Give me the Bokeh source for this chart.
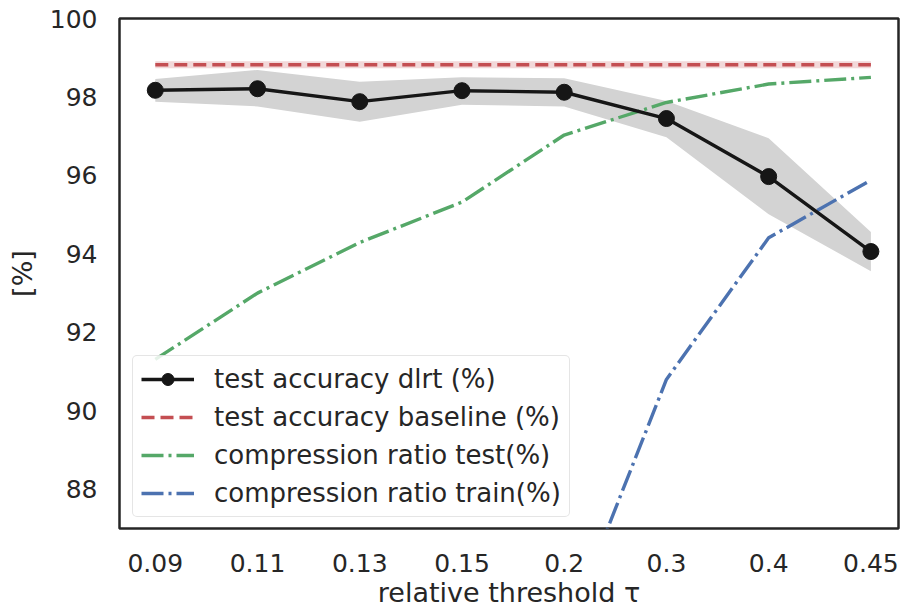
from bokeh.plotting import figure
from bokeh.models import Range1d, FixedTicker, Legend, LegendItem
from bokeh.embed import file_html
from bokeh.resources import INLINE

# relative threshold tau (categorical positions 0..7)
thresholds = ["0.09", "0.11", "0.13", "0.15", "0.2", "0.3", "0.4", "0.45"]

# test accuracy of the dlrt network, mean and spread (%)
acc_dlrt = [98.17, 98.21, 97.88, 98.16, 98.12, 97.45, 95.97, 94.06]
acc_dlrt_upper = [98.46, 98.69, 98.39, 98.50, 98.48, 97.90, 96.95, 94.56]
acc_dlrt_lower = [97.88, 97.76, 97.37, 97.80, 97.76, 96.97, 95.01, 93.56]

# full-rank baseline accuracy (%) and its spread
acc_baseline = [98.82] * 8
acc_baseline_upper = [98.91] * 8
acc_baseline_lower = [98.73] * 8

# compression ratios (%)
comp_test = [91.31, 93.0, 94.29, 95.32, 97.03, 97.86, 98.33, 98.50]
comp_train = [71.5, 75.0, 78.0, 80.5, 84.2, 90.8, 94.41, 95.88]

y_ticks = [88, 90, 92, 94, 96, 98, 100]

xs = list(range(len(thresholds)))

TEXT = "#262626"
BLACK = "#161616"
RED = "#c44e52"
GREEN = "#55a868"
BLUE = "#4c72b0"
FONT = "DejaVu Sans"

p = figure(
    width=901, height=610,
    x_range=Range1d(-0.35, 7.27), y_range=Range1d(87, 100),
    output_backend="svg", toolbar_location=None,
    min_border_left=119, min_border_right=3,
    min_border_top=18, min_border_bottom=82,
)
p.background_fill_color = "white"
p.border_fill_color = "white"
p.grid.visible = False
p.outline_line_color = TEXT
p.outline_line_width = 2.5

# axes
p.xaxis.ticker = FixedTicker(ticks=xs)
p.xaxis.major_label_overrides = {i: t for i, t in enumerate(thresholds)}
p.yaxis.ticker = FixedTicker(ticks=y_ticks)
for ax in (p.xaxis[0], p.yaxis[0]):
    ax.axis_line_color = None
    ax.major_tick_line_color = None
    ax.minor_tick_line_color = None
    ax.major_tick_out = 0
    ax.major_tick_in = 0
    ax.major_label_text_color = TEXT
    ax.major_label_text_font = FONT
    ax.major_label_text_font_size = "25px"
    ax.axis_label_text_color = TEXT
    ax.axis_label_text_font = FONT
    ax.axis_label_text_font_size = "27px"
    ax.axis_label_text_font_style = "normal"

p.yaxis.major_label_standoff = 22
p.yaxis.axis_label = "[%]"
p.yaxis.axis_label_standoff = 9

p.xaxis.major_label_standoff = 25
p.xaxis.axis_label = "relative threshold τ"
p.xaxis.axis_label_standoff = 2

# spread bands
p.varea(x=xs, y1=acc_baseline_lower, y2=acc_baseline_upper,
        fill_color=RED, fill_alpha=0.22)
p.varea(x=xs, y1=acc_dlrt_lower, y2=acc_dlrt_upper,
        fill_color="#d3d3d3", fill_alpha=1.0)

# lines
r_base = p.line(xs, acc_baseline, line_color=RED, line_width=3.4,
                line_dash="13 6")
r_test = p.line(xs, comp_test, line_color=GREEN, line_width=3.4,
                line_dash="22 5 3 5")
r_train = p.line(xs, comp_train, line_color=BLUE, line_width=3.4,
                 line_dash="22 5 3 5")
r_dlrt = p.line(xs, acc_dlrt, line_color=BLACK, line_width=3.4)
r_dlrt_pts = p.scatter(xs, acc_dlrt, size=16, fill_color=BLACK,
                       line_color=BLACK)

legend = Legend(
    items=[
        LegendItem(label="test accuracy dlrt (%)", renderers=[r_dlrt, r_dlrt_pts]),
        LegendItem(label="test accuracy baseline (%)", renderers=[r_base]),
        LegendItem(label="compression ratio test(%)", renderers=[r_test]),
        LegendItem(label="compression ratio train(%)", renderers=[r_train]),
    ],
    location=(13, 11),
    label_text_font=FONT,
    label_text_font_size="26px",
    label_text_color=TEXT,
    glyph_width=53,
    glyph_height=30,
    label_height=30,
    label_standoff=20,
    spacing=8,
    padding=8,
    margin=0,
    background_fill_color="white",
    background_fill_alpha=0.85,
    border_line_color="#cccccc",
    border_line_width=1.5,
)
if "border_radius" in Legend.properties():
    legend.border_radius = 5
p.add_layout(legend, "center")

open("out.html", "w").write(file_html(p, INLINE))
